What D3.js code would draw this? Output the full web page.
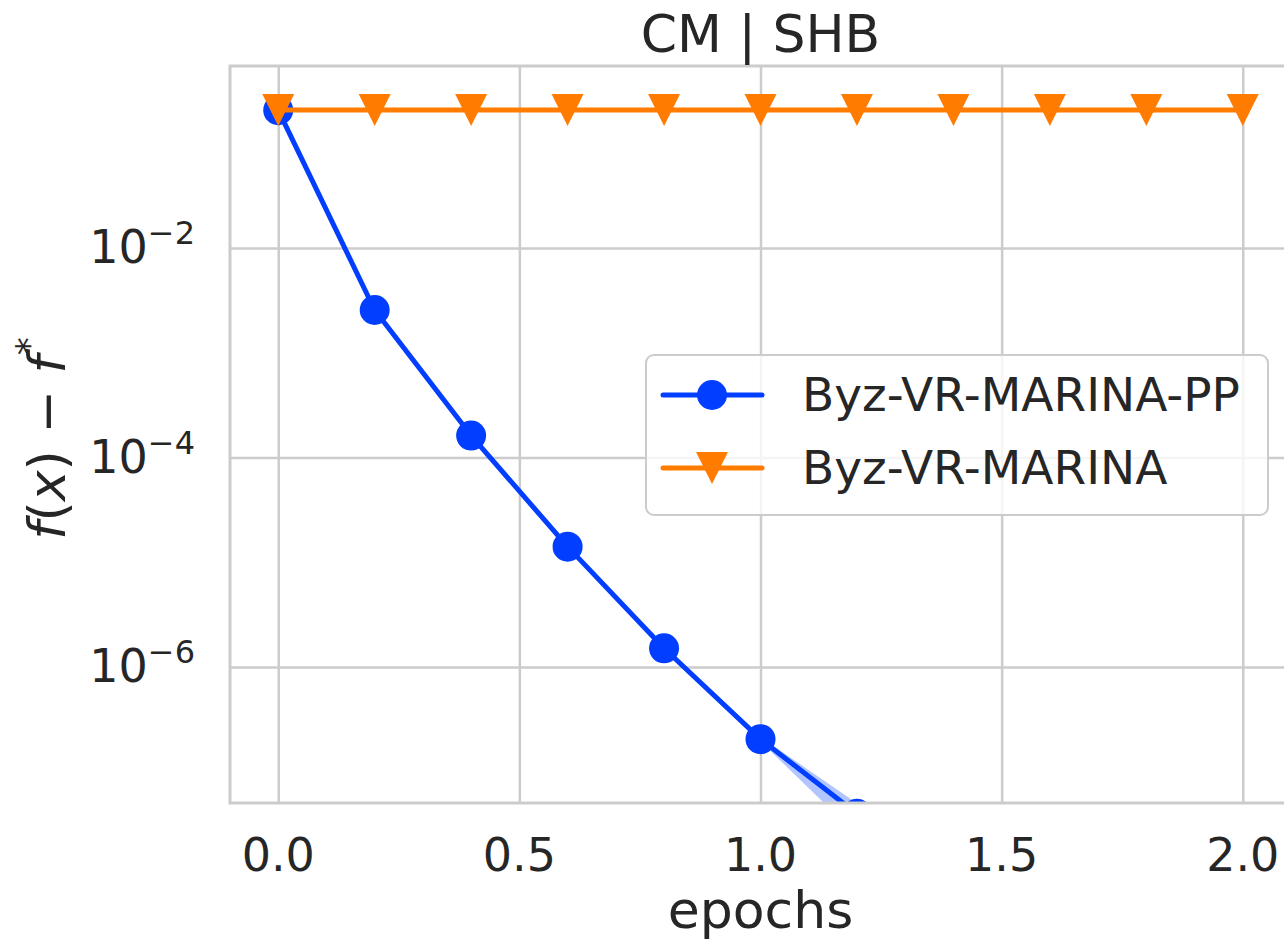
<!DOCTYPE html>
<html lang="en">
<head>
    <meta charset="UTF-8">
    <title>CM | SHB</title>
    <script src="https://d3js.org/d3.v7.min.js"></script>
    <style>
        body {
            margin: 0;
            background: #ffffff;
        }
        svg {
            display: block;
            font-family: "DejaVu Sans", sans-serif;
        }
        .grid line {
            stroke: #cccccc;
            stroke-width: 2.5;
        }
        .grid path {
            display: none;
        }
        .tick-label {
            fill: #262626;
            font-size: 46px;
        }
    </style>
</head>
<body>
<div id="chart"></div>

<script>
    const width = 1284;
    const height = 940;

    // Daten
    const epochs = [0.0, 0.2, 0.4, 0.6, 0.8, 1.0, 1.2];
    const ppValues = [0.207, 2.56e-3, 1.62e-4, 1.41e-5, 1.51e-6, 2.05e-7, 3.98e-8];
    const ppUpper = [0.209, 2.6e-3, 1.65e-4, 1.44e-5, 1.55e-6, 2.15e-7, 5.0e-8];
    const ppLower = [0.205, 2.52e-3, 1.59e-4, 1.38e-5, 1.47e-6, 1.95e-7, 2.5e-8];

    const marinaEpochs = [0.0, 0.2, 0.4, 0.6, 0.8, 1.0, 1.2, 1.4, 1.6, 1.8, 2.0];
    const marinaValues = [0.208, 0.208, 0.208, 0.208, 0.208, 0.208, 0.208, 0.208, 0.208, 0.208, 0.208];

    const seriesNames = ["Byz-VR-MARINA-PP", "Byz-VR-MARINA"];
    const xTicks = [0.0, 0.5, 1.0, 1.5, 2.0];
    const yTicks = [1e-2, 1e-4, 1e-6];
    const yTickExps = ["−2", "−4", "−6"];
    const xLimits = [-0.1, 2.1];
    const yLimits = [5.035e-8, 0.5464];

    const blue = "#023eff";
    const orange = "#ff7c00";
    const textColor = "#262626";

    const margin = {left: 230, top: 66, right: 1291, bottom: 803};

    const svg = d3.select("#chart").append("svg")
        .attr("width", width)
        .attr("height", height);

    const x = d3.scaleLinear().domain(xLimits).range([margin.left, margin.right]);
    const y = d3.scaleLog().domain(yLimits).range([margin.bottom, margin.top]);

    svg.append("clipPath").attr("id", "plotClip")
        .append("rect")
        .attr("x", margin.left)
        .attr("y", margin.top)
        .attr("width", margin.right - margin.left)
        .attr("height", margin.bottom - margin.top);

    // Gitterlinien
    svg.append("g")
        .attr("class", "grid")
        .attr("transform", `translate(0, ${margin.bottom})`)
        .call(d3.axisBottom(x).tickValues(xTicks).tickSize(-(margin.bottom - margin.top)).tickFormat(""));

    svg.append("g")
        .attr("class", "grid")
        .attr("transform", `translate(${margin.left}, 0)`)
        .call(d3.axisLeft(y).tickValues(yTicks).tickSize(-(margin.right - margin.left)).tickFormat(""));

    const plot = svg.append("g").attr("clip-path", "url(#plotClip)");

    // Konfidenzband
    const band = d3.area()
        .x((d, i) => x(epochs[i]))
        .y0((d, i) => y(ppLower[i]))
        .y1((d, i) => y(ppUpper[i]));

    plot.append("path")
        .datum(epochs)
        .attr("d", band)
        .attr("fill", blue)
        .attr("fill-opacity", 0.3);

    const line = d3.line()
        .x(d => x(d[0]))
        .y(d => y(d[1]));

    const ppData = epochs.map((e, i) => [e, ppValues[i]]);
    const marinaData = marinaEpochs.map((e, i) => [e, marinaValues[i]]);

    plot.append("path")
        .datum(ppData)
        .attr("d", line)
        .attr("fill", "none")
        .attr("stroke", blue)
        .attr("stroke-width", 5)
        .attr("stroke-linejoin", "round");

    plot.selectAll(".pp-dot")
        .data(ppData)
        .join("circle")
        .attr("class", "pp-dot")
        .attr("cx", d => x(d[0]))
        .attr("cy", d => y(d[1]))
        .attr("r", 15)
        .attr("fill", blue);

    plot.append("path")
        .datum(marinaData)
        .attr("d", line)
        .attr("fill", "none")
        .attr("stroke", orange)
        .attr("stroke-width", 5);

    function triangle(cx, cy) {
        const s = 16;
        return `M${cx - s},${cy - s}L${cx + s},${cy - s}L${cx},${cy + s}Z`;
    }

    plot.selectAll(".marina-tri")
        .data(marinaData)
        .join("path")
        .attr("class", "marina-tri")
        .attr("d", d => triangle(x(d[0]), y(d[1])))
        .attr("fill", orange);

    // Rahmen
    svg.append("rect")
        .attr("x", margin.left)
        .attr("y", margin.top)
        .attr("width", margin.right - margin.left)
        .attr("height", margin.bottom - margin.top)
        .attr("fill", "none")
        .attr("stroke", "#cccccc")
        .attr("stroke-width", 3);

    // Achsenbeschriftungen
    svg.selectAll(".xlabel")
        .data(xTicks)
        .join("text")
        .attr("class", "tick-label")
        .attr("x", d => x(d))
        .attr("y", 871)
        .attr("text-anchor", "middle")
        .text(d => d3.format(".1f")(d));

    const yl = svg.selectAll(".ylabel")
        .data(yTicks)
        .join("text")
        .attr("class", "tick-label")
        .attr("x", 195)
        .attr("y", d => y(d) + 15)
        .attr("text-anchor", "end");

    yl.append("tspan").text("10");
    yl.append("tspan")
        .attr("dy", -19)
        .attr("font-size", 32)
        .text((d, i) => yTickExps[i]);

    svg.append("text")
        .attr("x", (margin.left + margin.right) / 2)
        .attr("y", 928)
        .attr("text-anchor", "middle")
        .attr("font-size", 52)
        .attr("fill", textColor)
        .text("epochs");

    const ylab = svg.append("text")
        .attr("transform", `translate(65, ${(margin.top + margin.bottom) / 2 + 4}) rotate(-90)`)
        .attr("text-anchor", "middle")
        .attr("font-size", 52)
        .attr("fill", textColor);
    ylab.append("tspan").attr("font-style", "italic").text("f");
    ylab.append("tspan").text("(");
    ylab.append("tspan").attr("font-style", "italic").text("x");
    ylab.append("tspan").text(") − ");
    ylab.append("tspan").attr("font-style", "italic").text("f");
    ylab.append("tspan").attr("dy", -24).attr("font-size", 36).text("*");

    svg.append("text")
        .attr("x", (margin.left + margin.right) / 2)
        .attr("y", 52)
        .attr("text-anchor", "middle")
        .attr("font-size", 52)
        .attr("fill", textColor)
        .text("CM | SHB");

    // Legende
    const legend = svg.append("g").attr("transform", "translate(646, 355)");
    legend.append("rect")
        .attr("width", 622)
        .attr("height", 160)
        .attr("rx", 8)
        .attr("fill", "#ffffff")
        .attr("fill-opacity", 0.8)
        .attr("stroke", "#cccccc")
        .attr("stroke-width", 2);

    const rows = [40, 113];
    const colors = [blue, orange];

    seriesNames.forEach((name, i) => {
        const row = legend.append("g").attr("transform", `translate(0, ${rows[i]})`);
        row.append("line")
            .attr("x1", 17).attr("x2", 116)
            .attr("stroke", colors[i])
            .attr("stroke-width", 5)
            .attr("stroke-linecap", "round");
        if (i === 0) {
            row.append("circle").attr("cx", 66).attr("r", 15).attr("fill", blue);
        } else {
            row.append("path").attr("d", triangle(66, 0)).attr("fill", orange);
        }
        row.append("text")
            .attr("x", 156)
            .attr("y", 16)
            .attr("font-size", 47)
            .attr("fill", textColor)
            .text(name);
    });
</script>
</body>
</html>
